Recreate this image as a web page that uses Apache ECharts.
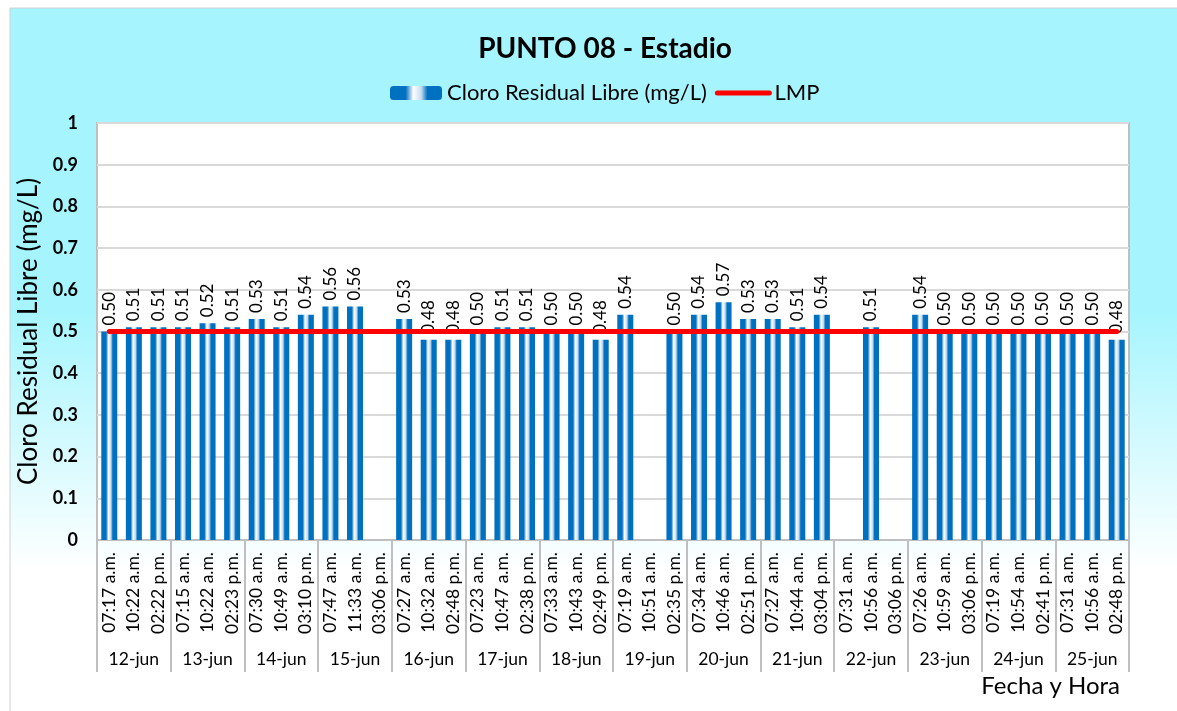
<!DOCTYPE html>
<html>
<head>
<meta charset="utf-8">
<script src="https://cdn.jsdelivr.net/npm/echarts@6/dist/echarts.min.js"></script>
<style>
  html, body { margin: 0; padding: 0; background: #fff; }
  #main { width: 1177px; height: 711px; }
</style>
</head>
<body>
<div id="main"></div>
<script>
// datos del grafico
var horas = [
  '07:17 a.m.', '10:22 a.m.', '02:22 p.m.',
  '07:15 a.m.', '10:22 a.m.', '02:23 p.m.',
  '07:30 a.m.', '10:49 a.m.', '03:10 p.m.',
  '07:47 a.m.', '11:33 a.m.', '03:06 p.m.',
  '07:27 a.m.', '10:32 a.m.', '02:48 p.m.',
  '07:23 a.m.', '10:47 a.m.', '02:38 p.m.',
  '07:33 a.m.', '10:43 a.m.', '02:49 p.m.',
  '07:19 a.m.', '10:51 a.m.', '02:35 p.m.',
  '07:34 a.m.', '10:46 a.m.', '02:51 p.m.',
  '07:27 a.m.', '10:44 a.m.', '03:04 p.m.',
  '07:31 a.m.', '10:56 a.m.', '03:06 p.m.',
  '07:26 a.m.', '10:59 a.m.', '03:06 p.m.',
  '07:19 a.m.', '10:54 a.m.', '02:41 p.m.',
  '07:31 a.m.', '10:56 a.m.', '02:48 p.m.'
];
var dias = ['12-jun', '13-jun', '14-jun', '15-jun', '16-jun', '17-jun', '18-jun',
  '19-jun', '20-jun', '21-jun', '22-jun', '23-jun', '24-jun', '25-jun'];
var cloro = [
  0.50, 0.51, 0.51,
  0.51, 0.52, 0.51,
  0.53, 0.51, 0.54,
  0.56, 0.56, null,
  0.53, 0.48, 0.48,
  0.50, 0.51, 0.51,
  0.50, 0.50, 0.48,
  0.54, null, 0.50,
  0.54, 0.57, 0.53,
  0.53, 0.51, 0.54,
  null, 0.51, null,
  0.54, 0.50, 0.50,
  0.50, 0.50, 0.50,
  0.50, 0.50, 0.48
];
var lmp = [
  0.5, 0.5, 0.5, 0.5, 0.5, 0.5, 0.5, 0.5, 0.5, 0.5, 0.5, 0.5, 0.5, 0.5,
  0.5, 0.5, 0.5, 0.5, 0.5, 0.5, 0.5, 0.5, 0.5, 0.5, 0.5, 0.5, 0.5, 0.5,
  0.5, 0.5, 0.5, 0.5, 0.5, 0.5, 0.5, 0.5, 0.5, 0.5, 0.5, 0.5, 0.5, 0.5
];
var yTicks = [0, 0.1, 0.2, 0.3, 0.4, 0.5, 0.6, 0.7, 0.8, 0.9, 1];

var fuente = 'Lato';
var azul = '#0070C0';

var myChart = echarts.init(document.getElementById('main'));

var barraColor = new echarts.graphic.LinearGradient(0, 0, 1, 0, [
  { offset: 0, color: azul },
  { offset: 0.3, color: azul },
  { offset: 0.45, color: '#ffffff' },
  { offset: 0.6, color: '#c6dcf0' },
  { offset: 0.72, color: azul },
  { offset: 1, color: azul }
]);

var option = {
  textStyle: { fontFamily: fuente },
  animation: false,
  graphic: [{
    type: 'rect',
    z: -10,
    silent: true,
    shape: { x: 10, y: 8, width: 1180, height: 720 },
    style: {
      fill: new echarts.graphic.LinearGradient(0, 0, 0, 1, [
        { offset: 0, color: '#a6f5fe' },
        { offset: 0.42, color: '#a6f5fe' },
        { offset: 0.78, color: '#ffffff' },
        { offset: 1, color: '#ffffff' }
      ]),
      stroke: '#d0d0d0',
      lineWidth: 1
    }
  }, {
    type: 'text',
    right: 57,
    top: 674,
    style: {
      text: 'Fecha y Hora',
      font: '24px ' + fuente,
      fill: '#000'
    }
  }],
  title: {
    text: 'PUNTO 08 - Estadio',
    left: 600,
    textAlign: 'center',
    top: 30,
    textStyle: { fontFamily: fuente, fontSize: 28, fontWeight: 'bold', color: '#000' }
  },
  legend: {
    top: 77,
    left: 385,
    itemWidth: 52,
    itemHeight: 14,
    itemGap: 8,
    textStyle: { fontFamily: fuente, fontSize: 22, color: '#000' },
    data: [
      { name: 'Cloro Residual Libre (mg/L)' },
      { name: 'LMP', itemStyle: { opacity: 0 }, lineStyle: { width: 5 } }
    ]
  },
  grid: {
    left: 97,
    right: 48,
    top: 123,
    bottom: 171,
    show: true,
    backgroundColor: '#ffffff',
    borderColor: '#bfbfbf',
    borderWidth: 2
  },
  xAxis: [{
    type: 'category',
    data: horas,
    position: 'bottom',
    axisLine: { show: true, lineStyle: { color: '#bfbfbf', width: 2 } },
    axisTick: { show: false },
    axisLabel: {
      interval: 0,
      rotate: 90,
      margin: 12,
      fontFamily: fuente,
      fontSize: 17.5,
      color: '#000'
    }
  }, {
    type: 'category',
    data: dias,
    position: 'bottom',
    axisLine: { show: false },
    axisTick: {
      show: true,
      interval: 0,
      length: 132,
      lineStyle: { color: '#bfbfbf', width: 2 }
    },
    axisLabel: {
      interval: 0,
      margin: 110,
      fontFamily: fuente,
      fontSize: 17.5,
      color: '#000'
    }
  }],
  yAxis: {
    type: 'value',
    min: 0,
    max: 1,
    interval: 0.1,
    name: 'Cloro Residual Libre (mg/L)',
    nameLocation: 'middle',
    nameRotate: 90,
    nameGap: 51,
    nameTextStyle: { fontFamily: fuente, fontSize: 26, color: '#000' },
    axisLine: { show: false },
    axisTick: { show: false },
    splitLine: { lineStyle: { color: '#d9d9d9', width: 2 } },
    axisLabel: {
      margin: 19,
      fontFamily: fuente,
      fontSize: 18,
      fontWeight: 'bold',
      color: '#000',
      formatter: function (v) {
        // etiquetas del eje
        var i = Math.round(v * 10);
        return String(yTicks[i]);
      }
    }
  },
  series: [{
    name: 'Cloro Residual Libre (mg/L)',
    type: 'bar',
    barWidth: 16,
    data: cloro,
    itemStyle: { color: barraColor },
    label: {
      show: true,
      position: 'top',
      rotate: 90,
      align: 'left',
      verticalAlign: 'middle',
      distance: 6,
      fontFamily: fuente,
      fontSize: 17,
      color: '#000',
      formatter: function (p) {
        return p.value == null ? '' : p.value.toFixed(2);
      }
    }
  }, {
    name: 'LMP',
    type: 'line',
    data: lmp,
    symbol: 'none',
    z: 5,
    itemStyle: { color: '#ff0000' },
    lineStyle: { color: '#ff0000', width: 5, cap: 'round' }
  }]
};

myChart.setOption(option);
</script>
</body>
</html>
